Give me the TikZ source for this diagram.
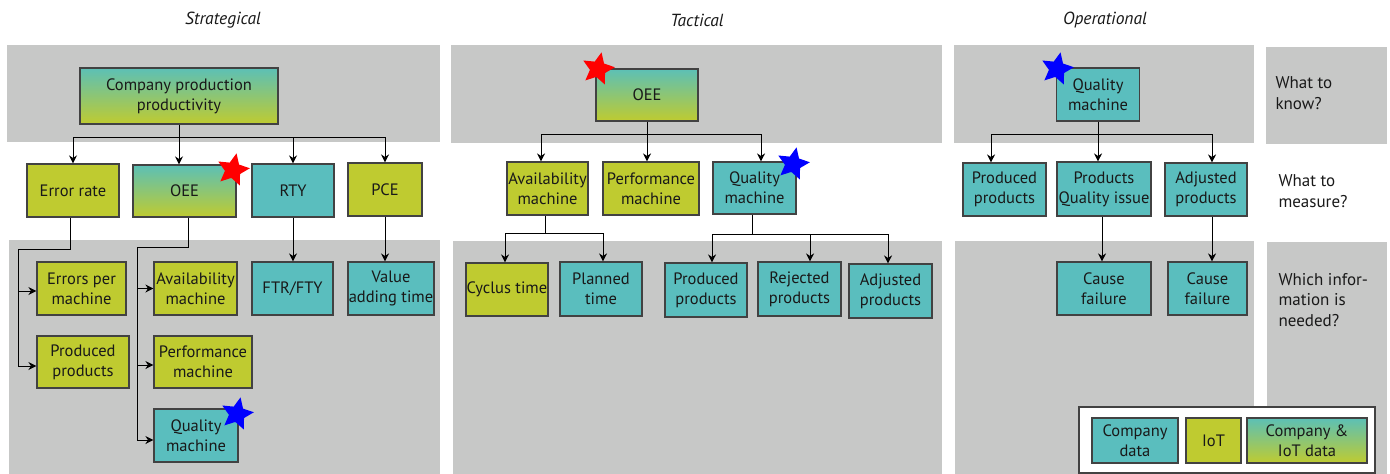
\documentclass[tikz,border=0pt]{standalone}
\usepackage{fontspec}
\setmainfont{PT Sans}
\usetikzlibrary{shapes.geometric,arrows.meta,calc}
\definecolor{band}{RGB}{199,200,199}
\definecolor{edge}{RGB}{66,66,66}
\definecolor{ink}{RGB}{25,25,25}
\definecolor{compteal}{RGB}{90,190,190}
\definecolor{iotolive}{RGB}{191,203,48}
\definecolor{mixtop}{RGB}{92,192,182}
\begin{document}
\begin{tikzpicture}[x=1pt,y=-1pt,
  box/.style={draw=edge, line width=1.1pt, align=center, inner sep=0pt, text=ink,
    font=\fontsize{16.5}{20}\selectfont},
  co/.style={box, fill=compteal},
  io/.style={box, fill=iotolive},
  mix/.style={box, top color=mixtop, bottom color=iotolive},
  sz/.style 2 args={minimum width=#1pt, minimum height=#2pt},
  arr/.style={draw=black, line width=0.9pt, -{Stealth[length=8pt,width=8pt,inset=2.5pt]}},
  ln/.style={draw=black, line width=0.9pt},
  mark5/.style={star, star points=5, star point ratio=2.1, minimum size=34pt, inner sep=0pt,
    shape border rotate=-12},
  head/.style={font=\fontsize{17.5}{20}\selectfont\itshape, text=ink},
  qlabel/.style={anchor=west, align=left, text=ink, font=\fontsize{17}{20.5}\selectfont}
]
\useasboundingbox (0,0) rectangle (1390,474);

% background bands
\fill[band] (7,45) rectangle (440,142);
\fill[band] (9,240) rectangle (440,474);
\fill[band] (451,45) rectangle (942,143);
\fill[band] (453,241) rectangle (942,474);
\fill[band] (954,45) rectangle (1254,143);
\fill[band] (955,241) rectangle (1254,474);
\fill[band] (1266,47) rectangle (1387,144);
\fill[band] (1267,242) rectangle (1387,474);

% column headings
\node[head] (hs) at (223,20) {Strategical};
\node[head] (ht) at (697,20) {Tactical};
\node[head] (ho) at (1105,20) {Operational};

% row questions
\node[qlabel] (q1) at (1272,93) {What to\\know?};
\node[qlabel] (q2) at (1275,191) {What to\\measure?};
\node[qlabel] (q3) at (1275,300) {Which infor-\\mation is\\needed?};

% strategical level
\node[mix, sz={198}{56}] (Scomp) at (179,96) {Company production\\productivity};
\node[io,  sz={92}{53}]  (Serr)  at (73,190.5) {Error rate};
\node[mix, sz={103}{52}] (Soee)  at (184.5,191) {OEE};
\node[co,  sz={82}{53}]  (Srty)  at (293,190.5) {RTY};
\node[io,  sz={74}{53}]  (Spce)  at (385,189.5) {PCE};
\node[io,  sz={89}{53}]  (Sepm)  at (81.5,288.5) {Errors per\\machine};
\node[io,  sz={92}{52}]  (Spp)   at (83,362) {Produced\\products};
\node[io,  sz={83}{53}]  (Sav)   at (195.5,288.5) {Availability\\machine};
\node[io,  sz={98}{52}]  (Sperf) at (203,362) {Performance\\machine};
\node[co,  sz={84}{53}]  (Squal) at (196,435.5) {Quality\\machine};
\node[co,  sz={81}{53}]  (Sftr)  at (292.5,288.5) {FTR/FTY};
\node[co,  sz={86}{53}]  (Svat)  at (391,288.5) {Value\\adding time};

\coordinate (sbar) at (179,137);
\draw[ln] (Scomp.south) -- (sbar);
\draw[arr] (sbar) -- (sbar |- Soee.north);
\draw[arr] (sbar) -| (Serr.north);
\draw[arr] (sbar) -| (Srty.north);
\draw[arr] (sbar) -| (Spce.north);

\coordinate (sel) at (18,249);
\draw[arr] ([xshift=-3pt]Serr.south) |- (sel) |- ([yshift=-2.5pt]Sepm.west);
\draw[arr] (sel) |- ([yshift=-4pt]Spp.west);

\coordinate (sol) at (137,247);
\draw[arr] ([xshift=3.5pt]Soee.south) |- (sol) |- (Sav.west);
\draw[arr] (sol) |- ([yshift=-3pt]Sperf.west);
\draw[arr] (sol) |- ([yshift=-4.5pt]Squal.west);

\draw[arr] (Srty.south) -- (Srty.south |- Sftr.north);
\draw[arr] (Spce.south) -- (Spce.south |- Svat.north);

% tactical level
\node[mix, sz={102}{52}] (Toee)  at (647,95) {OEE};
\node[io,  sz={81}{53}]  (Tav)   at (547.5,188.5) {Availability\\machine};
\node[io,  sz={96}{53}]  (Tperf) at (651,188.5) {Performance\\machine};
\node[co,  sz={83}{52}]  (Tqual) at (754.5,188) {Quality\\machine};
\node[io,  sz={82}{53}]  (Tcyc)  at (507,289.5) {Cyclus time};
\node[co,  sz={82}{54}]  (Tplan) at (601,289) {Planned\\time};
\node[co,  sz={82}{54}]  (Tprod) at (706,290) {Produced\\products};
\node[co,  sz={83}{54}]  (Trej)  at (799.5,289) {Rejected\\products};
\node[co,  sz={83}{54}]  (Tadj)  at (890.5,291) {Adjusted\\products};

\coordinate (tbar) at (647,134);
\draw[ln] (Toee.south) -- (tbar);
\draw[arr] (tbar) -| ([xshift=-6.5pt]Tav.north);
\draw[arr] (tbar) -- (tbar |- Tperf.north);
\draw[arr] (tbar) -| ([xshift=6.5pt]Tqual.north);

\coordinate (tab) at (545,233);
\draw[ln] (Tav.south -| tab) -- (tab);
\draw[arr] (tab) -| ([xshift=-2pt]Tcyc.north);
\draw[arr] (tab) -| ([xshift=2pt]Tplan.north);

\coordinate (tqb) at (752,234);
\draw[ln] (Tqual.south -| tqb) -- (tqb);
\draw[arr] (tqb) -| ([xshift=6pt]Tprod.north);
\draw[arr] (tqb) -| ([xshift=10.5pt]Trej.north);
\draw[arr] (tqb) -| ([xshift=-2.5pt]Tadj.north);

% operational level
\node[co, sz={83}{53}] (Oqual) at (1098,94.5) {Quality\\machine};
\node[co, sz={83}{53}] (Oprod) at (1004.5,189.5) {Produced\\products};
\node[co, sz={94}{54}] (Opqi)  at (1104,189) {Products\\Quality issue};
\node[co, sz={82}{53}] (Oadj)  at (1206,189.5) {Adjusted\\products};
\node[co, sz={94}{53}] (Ocf1)  at (1104,288.5) {Cause\\failure};
\node[co, sz={79}{53}] (Ocf2)  at (1207.5,288.5) {Cause\\failure};

\coordinate (obar) at (1098,134);
\draw[ln] (Oqual.south) -- (obar);
\draw[arr] (obar) -| ([xshift=-13.5pt]Oprod.north);
\draw[arr] (obar) -- (obar |- Opqi.north);
\draw[arr] (obar) -| ([xshift=6pt]Oadj.north);
\draw[arr] ([xshift=-2pt]Opqi.south) -- ([xshift=-2pt]Ocf1.north);
\draw[arr] ([xshift=6pt]Oadj.south) -- ([xshift=6pt]Oadj.south |- Ocf2.north);

% priority marks
\node[mark5, fill=red]  (m1) at (233,170) {};
\node[mark5, fill=red]  (m2) at (598,69) {};
\node[mark5, fill=blue] (m3) at (237,414) {};
\node[mark5, fill=blue] (m4) at (793,164) {};
\node[mark5, fill=blue] (m5) at (1057,69) {};

% legend
\node[draw=edge, fill=white, line width=1.1pt, minimum width=296pt, minimum height=66pt, inner sep=0pt]
  (leg) at (1227,440) {};
\node[co,  sz={86}{45}]  (lc) at (1135,440.5) {Company\\data};
\node[io,  sz={55}{45}]  (li) at (1213.5,440.5) {IoT};
\node[mix, sz={120}{45}] (lm) at (1307,440.5) {Company \&\\IoT data};
\end{tikzpicture}
\end{document}
